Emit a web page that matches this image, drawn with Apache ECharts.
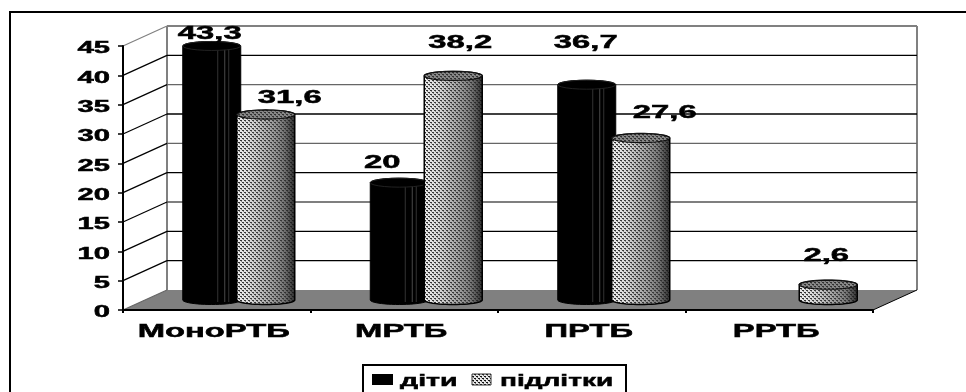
<!DOCTYPE html>
<html>
<head>
<meta charset="utf-8">
<style>html,body{margin:0;padding:0;background:#fff}#chart{width:966px;height:392px}</style>
<script src="https://cdn.jsdelivr.net/npm/echarts@6/dist/echarts.min.js"></script>
</head>
<body>
<div id="chart"></div>
<script>
// Chart values
const categories = ['МоноРТБ', 'МРТБ', 'ПРТБ', 'РРТБ'];
const seriesNames = ['діти', 'підлітки'];
const children = [43.3, 20, 36.7, null];
const teens = [31.6, 38.2, 27.6, 2.6];
const yTicks = [0, 5, 10, 15, 20, 25, 30, 35, 40, 45];

// Wide bold lettering used throughout the chart
const FONT = 'Liberation Sans';
const STRETCH = 1.82;
const BASELINE_NUDGE = 3;

// Pseudo-3D projection
const WALL = { dx: 44, dy: -20 };
const BAR = { dx: 22, dy: -10, gap: 27, rx: 29, ry: 4.5 };
const GREY = '#808080';
// Gridline tones on the back wall, from 0 upward
const gridTones = ['#808080', '#000', '#000', '#555', '#000', '#666', '#000', '#666', '#000', '#808080'];
// Hand placement of each value label relative to its column top
const childLabelShift = [[-2, -15], [-17, -23], [-1, -45]];
const teenLabelShift = [[24, -20], [7, -36], [24, -28], [-2, -32]];

// Halftone tile for the light columns
function halftone() {
  const c = document.createElement('canvas');
  c.width = 4; c.height = 4;
  const g = c.getContext('2d');
  g.fillStyle = '#e8e8e8'; g.fillRect(0, 0, 4, 4);
  g.fillStyle = '#111';
  g.fillRect(0, 0, 2, 1); g.fillRect(2, 2, 2, 1);
  g.fillStyle = '#777';
  g.fillRect(1, 1, 1, 1); g.fillRect(3, 3, 1, 1);
  return c;
}
const dots = { image: halftone(), repeat: 'repeat' };

const wideText = (text, x, y, size, align) => ({
  type: 'text', x, y: y + BASELINE_NUDGE, scaleX: STRETCH, z2: 30,
  style: {
    text, fill: '#000', stroke: '#000', lineWidth: 0.5, font: `bold ${size}px "${FONT}"`,
    textAlign: align || 'center', textVerticalAlign: 'middle'
  }
});

function ellipsePoints(cx, cy, rx, ry, from, to) {
  const pts = [];
  for (let i = 0; i <= 24; i++) {
    const a = from + (to - from) * i / 24;
    pts.push([cx + rx * Math.cos(a), cy + ry * Math.sin(a)]);
  }
  return pts;
}

function renderFrame(params, api) {
  const sys = params.coordSys;
  const v = api.value(1);
  const y = api.coord([0, v])[1];
  const left = sys.x, right = sys.x + sys.width;
  const bottom = sys.y + sys.height;
  const tone = gridTones[params.dataIndex];
  const kids = [];
  if (params.dataIndex === 0) {
    kids.push({
      type: 'polygon', z2: 1,
      shape: { points: [[left, bottom], [right, bottom], [right + WALL.dx, bottom + WALL.dy], [left + WALL.dx, bottom + WALL.dy]] },
      style: { fill: GREY }
    });
    kids.push({
      type: 'line', z2: 2,
      shape: { x1: left + WALL.dx, y1: sys.y + WALL.dy, x2: left + WALL.dx, y2: bottom + WALL.dy },
      style: { stroke: GREY, lineWidth: 2 }
    });
    kids.push({
      type: 'line', z2: 2,
      shape: { x1: right + WALL.dx, y1: sys.y + WALL.dy, x2: right + WALL.dx, y2: bottom + WALL.dy },
      style: { stroke: GREY, lineWidth: 2 }
    });
    kids.push({
      type: 'line', z2: 2,
      shape: { x1: right, y1: bottom, x2: right + WALL.dx, y2: bottom + WALL.dy },
      style: { stroke: '#000', lineWidth: 1 }
    });
  }
  if (v > 0) {
    kids.push({
      type: 'line', z2: 2,
      shape: { x1: left + WALL.dx, y1: y + WALL.dy, x2: right + WALL.dx, y2: y + WALL.dy },
      style: { stroke: tone, lineWidth: v === 45 ? 2 : 1.4 }
    });
  }
  kids.push({
    type: 'line', z2: 2,
    shape: { x1: left, y1: y, x2: left + WALL.dx, y2: y + WALL.dy },
    style: { stroke: v === 45 ? GREY : (v === 0 ? '#666' : '#000'), lineWidth: 1.2 }
  });
  kids.push(wideText(String(v), left - 13, y, 16, 'right'));
  return { type: 'group', children: kids };
}

function renderColumn(side, shifts) {
  return function (params, api) {
    const idx = api.value(0), v = api.value(1);
    const top = api.coord([idx, v]);
    const base = api.coord([idx, 0]);
    const cx = top[0] + BAR.dx + side * BAR.gap;
    const topY = top[1] + BAR.dy;
    const botY = base[1] + BAR.dy;
    // Outline: front of the base, then the back of the cap
    const pts = ellipsePoints(cx, botY, BAR.rx, BAR.ry, Math.PI, 0)
      .concat(ellipsePoints(cx, topY, BAR.rx, BAR.ry, 2 * Math.PI, Math.PI));
    const cap = ellipsePoints(cx, topY, BAR.rx, BAR.ry, 0, 2 * Math.PI);
    const kids = [];
    if (side < 0) {
      kids.push({ type: 'polygon', shape: { points: pts }, style: { fill: '#000', stroke: '#000', lineWidth: 1 } });
      [6, 13, 17].forEach((off, i) => {
        kids.push({
          type: 'line',
          shape: { x1: cx + off, y1: topY + 3, x2: cx + off, y2: botY + 2 },
          style: { stroke: i === 1 ? '#4a4a4a' : '#333', lineWidth: 1 }
        });
      });
      kids.push({ type: 'polygon', shape: { points: cap }, style: { fill: '#000', stroke: '#222', lineWidth: 1 } });
    } else {
      kids.push({ type: 'polygon', shape: { points: pts }, style: { fill: dots } });
      kids.push({
        type: 'polygon',
        shape: { points: pts },
        style: {
          stroke: '#000', lineWidth: 1.5,
          fill: {
            type: 'linear', x: 0, y: 0, x2: 1, y2: 0,
            colorStops: [
              { offset: 0, color: 'rgba(255,255,255,0.1)' },
              { offset: 0.45, color: 'rgba(110,110,110,0.4)' },
              { offset: 0.8, color: 'rgba(70,70,70,0.7)' },
              { offset: 1, color: 'rgba(20,20,20,0.9)' }
            ]
          }
        }
      });
      kids.push({ type: 'polygon', shape: { points: cap }, style: { fill: dots } });
      kids.push({
        type: 'polygon',
        shape: { points: cap },
        style: { fill: 'rgba(70,70,70,0.6)', stroke: '#111', lineWidth: 1.2 }
      });
    }
    const shift = shifts[idx];
    const text = String(v).replace('.', ',');
    kids.push(wideText(text, cx + shift[0], topY + shift[1], 18));
    return { type: 'group', children: kids };
  };
}

function renderCategory(params, api) {
  const idx = api.value(0);
  const p = api.coord([idx, 0]);
  return wideText(categories[idx], p[0] - 3, p[1] + 19, 18);
}

const toData = arr => arr.map((v, i) => [i, v]).filter(d => d[1] !== null);

const option = {
  animation: false,
  backgroundColor: '#fff',
  grid: { left: 123, right: 93, top: 46, bottom: 82 },
  xAxis: {
    type: 'category', data: categories, z: 6,
    axisLine: { lineStyle: { color: '#000', width: 2 } },
    axisTick: { show: true, length: 3, lineStyle: { color: '#000', width: 2 } },
    axisLabel: { show: false }, splitLine: { show: false }
  },
  yAxis: {
    type: 'value', min: 0, max: 45, interval: 5, z: 6,
    axisLine: { show: true, lineStyle: { color: '#000', width: 2 } },
    axisTick: { show: true, length: 5, lineStyle: { color: '#000', width: 1.5 } },
    axisLabel: { show: false }, splitLine: { show: false }
  },
  series: [
    { type: 'custom', name: 'frame', z: 1, silent: true, clip: false, renderItem: renderFrame,
      data: yTicks.map(v => [0, v]), encode: { x: 0, y: 1 } },
    { type: 'custom', name: seriesNames[0], z: 3, clip: false, renderItem: renderColumn(-1, childLabelShift),
      data: toData(children), encode: { x: 0, y: 1 } },
    { type: 'custom', name: seriesNames[1], z: 4, clip: false, renderItem: renderColumn(1, teenLabelShift),
      data: toData(teens), encode: { x: 0, y: 1 } },
    { type: 'custom', name: 'categories', z: 5, silent: true, clip: false, renderItem: renderCategory,
      data: categories.map((c, i) => [i, 0]), encode: { x: 0, y: 1 } }
  ],
  graphic: [
    // Outer frame
    { type: 'polyline', z: 10, shape: { points: [[10, 392], [10, 12], [966, 12]] },
      style: { stroke: '#000', lineWidth: 2, fill: null } },
    // Legend box and entries
    { type: 'polyline', z: 10, shape: { points: [[363, 392], [363, 365], [626, 365], [626, 392]] },
      style: { stroke: '#000', lineWidth: 2, fill: null } },
    { type: 'rect', z: 10, shape: { x: 372, y: 374, width: 21, height: 11 }, style: { fill: '#000' } },
    { type: 'text', z: 10, x: 400, y: 381, scaleX: 1.68,
      style: { text: seriesNames[0], fill: '#000', stroke: '#000', lineWidth: 0.5, font: `bold 17px "${FONT}"`, textAlign: 'left', textVerticalAlign: 'middle' } },
    { type: 'rect', z: 10, shape: { x: 472, y: 374, width: 19, height: 11 }, style: { fill: dots, stroke: '#333', lineWidth: 1 } },
    { type: 'text', z: 10, x: 500, y: 381, scaleX: 1.65,
      style: { text: seriesNames[1], fill: '#000', stroke: '#000', lineWidth: 0.5, font: `bold 17px "${FONT}"`, textAlign: 'left', textVerticalAlign: 'middle' } }
  ]
};

const chart = echarts.init(document.getElementById('chart'), null, { renderer: 'canvas' });
chart.setOption(option);
</script>
</body>
</html>
